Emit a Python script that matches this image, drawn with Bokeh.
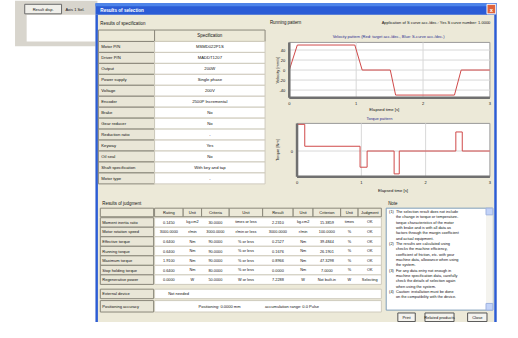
from bokeh.plotting import figure
from bokeh.models import Range1d
from bokeh.core.properties import value
from bokeh.embed import file_html
from bokeh.resources import INLINE

# ---------------- data ----------------
spec_labels = ["Motor P/N", "Driver P/N", "Output", "Power supply", "Voltage", "Encoder",
               "Brake", "Gear reducer", "Reduction ratio", "Keyway", "Oil seal",
               "Shaft specification", "Motor type"]
spec_values = ["MSMD022P1S", "MADDT1207", "200W", "Single phase", "200V", "2500P Incremental",
               "No", "No", "-", "Yes", "No", "With key and tap", "-"]

judg_headers = ["Rating", "Unit", "Criteria", "Unit", "Result", "Unit", "Criterion", "Unit", "Judgment"]
judg_labels = ["Moment inertia ratio", "Motor rotation speed", "Effective torque", "Running torque",
               "Maximum torque", "Stop holding torque", "Regenerative power"]
judg_rating = ["0.1450", "3000.0000", "0.6400", "0.6400", "1.9100", "0.6400", "0.0000"]
judg_unit1 = ["kg.cm2", "r/min", "Nm", "Nm", "Nm", "Nm", "W"]
judg_crit = ["30.0000", "3000.0000", "90.0000", "90.0000", "90.0000", "80.0000", "50.0000"]
judg_unit2 = ["times or less", "r/min or less", "% or less", "% or less", "% or less", "% or less", "W or less"]
judg_result = ["2.2310", "3000.0000", "0.2527", "0.1676", "0.8966", "0.0000", "7.2288"]
judg_unit3 = ["kg.cm2", "r/min", "Nm", "Nm", "Nm", "Nm", "W"]
judg_ratio = ["15.3859", "100.0000", "39.4844", "26.1901", "47.3298", "7.0000", "Not built-in"]
judg_unit4 = ["times", "%", "%", "%", "%", "%", "W"]
judg_judge = ["OK", "OK", "OK", "OK", "OK", "OK", "Selecting"]

time_s = [0, 0.12, 0.98, 1.09, 1.51, 1.59, 2.47, 2.57, 3.0]
velocity = [0, 50, 50, 0, 0, -50, -50, 0, 0]
vel_ticks = [-40, -20, 0, 20, 40]
torque_values = [1.4, 0.25, -0.85, 0, -1.2, 0, 1.0, 0, 0]
time_ticks = [0, 1, 2, 3]

notes = [
    ("(1)", "The selection result does not include"),
    ("", "the change in torque or temperature-"),
    ("", "torque characteristics of the motor"),
    ("", "with brake and is with all data as"),
    ("", "factors through the margin coefficient"),
    ("", "and actual equipment."),
    ("(2)", "The results are calculated using"),
    ("", "checks the machine efficiency,"),
    ("", "coefficient of friction, etc. with your"),
    ("", "machine data, allowance when using"),
    ("", "the system."),
    ("(3)", "For any data entry not enough in"),
    ("", "machine specification data, carefully"),
    ("", "check the details of selection again"),
    ("", "when using the system."),
    ("(4)", "Caution: installation must be done"),
    ("", "on the compatibility with the device."),
]

# ---------------- figure ----------------
p = figure(width=502, height=322, x_range=Range1d(0, 518), y_range=Range1d(338, 0),
           output_backend="svg", toolbar_location=None, min_border=0,
           x_axis_location=None, y_axis_location=None)
p.grid.visible = False
p.outline_line_color = None
p.background_fill_color = "white"
p.border_fill_color = "white"

FONT = value("Liberation Sans")
BEIGE = "#ece9d8"
GRID = "#cfcbbd"
DARK = "#8a877a"
S = 0.96


def T(xs, ys, texts, size=4.6, color="#111111", align="left", baseline="middle",
      angle=0, bold=False, r=None, xo=0, yo=0):
    r = r or p
    r.text(x=xs, y=ys, text=texts, text_font=FONT, text_font_size=f"{size * S:.2f}px",
           text_color=color, text_align=align, text_baseline=baseline, angle=angle,
           text_font_style="bold" if bold else "normal", x_offset=xo, y_offset=yo)


def Q(l, r, t, b, fill, line=None, lw=1):
    p.quad(left=l, right=r, top=t, bottom=b, fill_color=fill,
           line_color=line, line_width=lw)


# ---- background window (left) ----
Q([15], [100], [0], [48], "#d8d5cd")
Q([27], [100], [15], [43], "white")
Q([25], [63], [4], [14], "#f0efea", "#6b6b6b")
T([44], [9.5], ["Result disp."], size=4.2, align="center")
T([67], [9.5], ["Axis 1 Sel."], size=4.2)

# ---- dialog ----
Q([98], [512], [3], [345], BEIGE)
Q([98], [512], [3], [15], "#2b5cd6")
Q([98], [512], [3], [6], "#4d84ea")
Q([98], [100.5], [15], [345], "#2b5cd6")
Q([509.5], [512], [15], [345], "#2b5cd6")
Q([502], [511], [4], [14], "#e0643c", "white")
T([506.5], [9.5], ["x"], size=6, color="white", align="center", bold=True)
T([103], [10], ["Results of selection"], size=4.8, color="white", bold=True)

# ---- specification table ----
T([103], [24], ["Results of specification"], size=4.6)
row_h = 11.5
top0 = 43
tops = [top0 + i * row_h for i in range(len(spec_labels))]
bots = [t + row_h for t in tops]
Q([101], [159], [31], [43], BEIGE, DARK)
Q([159], [273], [31], [43], BEIGE, DARK)
T([216], [37], ["Specification"], size=4.6, align="center")
Q([101] * len(tops), [159] * len(tops), tops, bots, "#e9e6d7", DARK)
Q([159] * len(tops), [273] * len(tops), tops, bots, "white", GRID)
mids = [t + row_h / 2 for t in tops]
T([104] * len(tops), mids, spec_labels, size=4.4)
T([216] * len(tops), mids, spec_values, size=4.4, align="center")

# ---- running pattern ----
T([278], [23], ["Running pattern"], size=4.6)
T([509], [23], ["Application of S curve acc./dec.: Yes    S curve number: 1.0000"],
  size=4.2, align="right")
T([401], [38], ["Velocity pattern (Red: target acc./dec.,  Blue: S-curve acc./dec.)"],
  size=4.2, color="#2b2b8f", align="center")

# velocity chart
Q([298], [505], [44], [102], "white", "#9a9a9a")
vel = p.subplot(x_source=Range1d(0, 3), y_source=Range1d(-55.2, 55.2),
                x_target=Range1d(298, 505), y_target=Range1d(102, 44))
vel.segment(x0=[1, 2], x1=[1, 2], y0=[-55.2, -55.2], y1=[55.2, 55.2],
            line_color="#d8d8d8", line_width=1)
vel.segment(x0=[0] * len(vel_ticks), x1=[3] * len(vel_ticks), y0=vel_ticks, y1=vel_ticks,
            line_color="#d8d8d8", line_width=1)
vel.line(x=time_s, y=velocity, line_color="#d04a4a", line_width=1)
T([0] * len(vel_ticks), vel_ticks, [str(v) for v in vel_ticks], size=4.2,
  align="right", r=vel, xo=-4)
T(time_ticks, [-55.2] * 4, [str(v) for v in time_ticks], size=4.2,
  align="center", baseline="top", r=vel, yo=4)
p.segment(x0=[298, 298], x1=[505, 298], y0=[102, 102], y1=[102, 44],
          line_color="#707070", line_width=2.5)
T([286], [73], ["Velocity [mm/s]"], size=4.2, angle=1.5708, align="center")
T([396], [114], ["Elapsed time [s]"], size=4.4, align="center")

# torque chart
T([391], [124], ["Torque pattern"], size=4.2, color="#2b2b8f", align="center")
Q([306], [505], [129], [185], "white", "#9a9a9a")
tor = p.subplot(x_source=Range1d(0, 3), y_source=Range1d(-1.35, 1.45),
                x_target=Range1d(306, 505), y_target=Range1d(185, 129))
tor.segment(x0=[1, 2], x1=[1, 2], y0=[-1.35, -1.35], y1=[1.45, 1.45],
            line_color="#d8d8d8", line_width=1)
tor.segment(x0=[0], x1=[3], y0=[0], y1=[0], line_color="#d8d8d8", line_width=1)
tor.step(x=time_s, y=torque_values, mode="after", line_color="#d04a4a", line_width=1)
T([0], [0], ["0"], size=4.2, align="right", r=tor, xo=-4)
T(time_ticks, [-1.35] * 4, [str(v) for v in time_ticks], size=4.2,
  align="center", baseline="top", r=tor, yo=4)
p.segment(x0=[306, 306], x1=[505, 306], y0=[185, 185], y1=[185, 129],
          line_color="#707070", line_width=2.5)
T([286], [157], ["Torque [Nm]"], size=4.2, angle=1.5708, align="center")
T([405], [199], ["Elapsed time [s]"], size=4.4, align="center")

# ---- judgment table ----
T([105], [213], ["Results of judgment"], size=4.6)
jx = [159, 188.5, 207.5, 236, 270.5, 302, 322.5, 351, 369, 393]
Q([103], [158], [218], [227], BEIGE, DARK)
Q(jx[:-1], jx[1:], [218] * 9, [227] * 9, BEIGE, DARK)
T([(a + b) / 2 for a, b in zip(jx[:-1], jx[1:])], [222.5] * 9, judg_headers,
  size=4.2, align="center")
jt = [228 + 10 * i for i in range(len(judg_labels))]
jb = [t + 10 for t in jt]
jm = [t + 5 for t in jt]
n = len(jt)
Q([103] * n, [158] * n, jt, jb, "#e9e6d7", DARK)
Q([159] * n, [393] * n, jt, jb, "white", GRID)
T([105] * n, jm, judg_labels, size=4.2)
cols = [judg_rating, judg_unit1, judg_crit, judg_unit2, judg_result, judg_unit3,
        judg_ratio, judg_unit4, judg_judge]
for k, col in enumerate(cols):
    cx = (jx[k] + jx[k + 1]) / 2
    T([cx] * n, jm, col, size=4.0, align="center")

Q([103], [158], [303], [313], "#e9e6d7", DARK)
Q([103], [158], [315], [327], "#e9e6d7", DARK)
Q([159], [393], [303], [313], "white", GRID)
Q([159], [393], [315], [327], "white", GRID)
T([105, 105], [308, 321], ["External device", "Positioning accuracy"], size=4.2)
T([173], [308], ["Not needed"], size=4.2)
T([226], [321], ["Positioning: 0.0000 mm"], size=4.2, align="center")
T([273], [321], ["accumulation range: 0.0 Pulse"], size=4.2)

# ---- note ----
T([400], [213], ["Note"], size=4.6)
Q([398], [508], [218], [325], "white", "#7f9db9")
Q([501], [508], [218], [325], "#f4f3ee", None)
Q([501], [508], [218], [225], "#c3d3f8", "#9fb3e0")
Q([501], [508], [318], [325], "#c3d3f8", "#9fb3e0")
ny = [222 + 5.6 * i for i in range(len(notes))]
T([401] * len(notes), ny, [a for a, b in notes], size=4.0)
T([408] * len(notes), ny, [b for a, b in notes], size=4.0)

# ---- buttons ----
Q([410, 438, 482], [428, 468, 502], [328, 328, 328], [337, 337, 337], "#f4f3ee", "#555555")
T([419, 453, 492], [332.5, 332.5, 332.5], ["Print", "Related products", "Close"], size=4.2,
  align="center")

open("out.html", "w").write(file_html(p, INLINE))
